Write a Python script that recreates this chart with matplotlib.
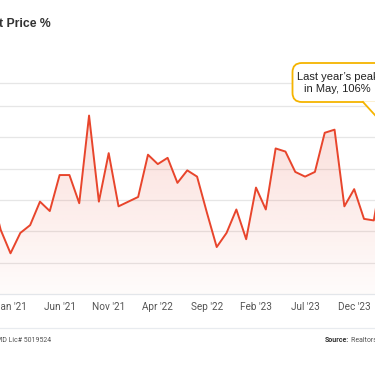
import numpy as np
import matplotlib
matplotlib.use("Agg")
import matplotlib.pyplot as plt
from matplotlib.patches import FancyBboxPatch, Polygon

# ==========================================================
# Data (monthly sale-to-list price %, month 0 = Jan '21)
# ==========================================================
months = list(range(-2, 39))
sale_to_list = [100.6, 98.1,
                96.6, 97.9, 98.4, 99.9, 99.3, 101.6, 101.6, 99.8, 105.4, 99.9, 103.0, 99.6,
                99.9, 100.2, 102.9, 102.3, 102.7, 101.1, 101.9, 101.5, 99.2, 97.0, 97.9, 99.4,
                97.5, 100.8, 99.4, 103.3, 103.1, 101.8, 101.5, 101.8, 104.3, 104.5, 99.6, 100.7,
                98.8, 98.7, 102.4]
tick_pos = [0, 5, 10, 15, 20, 25, 30, 35]
tick_labels = ["Jan '21", "Jun '21", "Nov '21", "Apr '22", "Sep '22", "Feb '23", "Jul '23", "Dec '23"]
grid_vals = [96, 98, 100, 102, 104, 106]

RED = "#e8452c"
GOLD = "#f5b400"
W, H = 375, 366

fig = plt.figure(figsize=(W / 100, H / 100), dpi=100)
fig.patch.set_facecolor("white")

# plot area: y from 82.7 px to 294 px
ax = fig.add_axes([0, (H - 294) / H, 1, (294 - 82.7) / H])
x0, x1 = -1.07, 37.12
y0, y1 = 94, 107.5
ax.set_xlim(x0, x1)
ax.set_ylim(y0, y1)

# gradient fill under the line
poly = ax.fill_between(months, sale_to_list, y0, color="none", lw=0)
grad = np.linspace(0.02, 0.18, 256).reshape(-1, 1)
rgba = np.zeros((256, 1, 4))
rgba[..., 0], rgba[..., 1], rgba[..., 2] = 232 / 255, 69 / 255, 44 / 255
rgba[..., 3] = grad[:, 0:1]
img = ax.imshow(rgba, extent=[x0, x1, y0, max(sale_to_list)], origin="lower",
                aspect="auto", zorder=1)
clip = poly.get_paths()[0]
img.set_clip_path(clip, transform=ax.transData)

ax.plot(months, sale_to_list, color=RED, lw=1.4, zorder=3)

for g in grid_vals:
    ax.axhline(g, color="#e6e6e6", lw=0.9, zorder=0)
ax.axhline(y1, color="#e6e6e6", lw=0.9, zorder=0, clip_on=False)

for s in ["top", "left", "right"]:
    ax.spines[s].set_visible(False)
ax.spines["bottom"].set_color("#e3e6ea")
ax.spines["bottom"].set_linewidth(0.9)
ax.set_yticks([])
ax.set_xticks(tick_pos)
ax.set_xticklabels(tick_labels, fontsize=7.2, color="#555555", family="Roboto")
ax.tick_params(axis="x", length=0, pad=5.5)

# ==========================================================
# Title, footer, annotation (pixel coordinates)
# ==========================================================
def px(x, y):
    return x / W, 1 - y / H

fig.text(*px(51, 24), "Sale-to-List Price %", ha="right", va="center",
         fontsize=8.8, fontweight="bold", color="#333333", family="Liberation Sans")

fig.add_artist(plt.Line2D([0, 1], [1 - 328 / H] * 2, color="#e8ebef", lw=0.9))
fig.text(*px(51, 340), "MD Lic# 5019524", ha="right", va="center",
         fontsize=5.0, color="#555555", family="Roboto")
src = fig.text(*px(325, 340), "Source:", ha="left", va="center",
               fontsize=5.0, fontweight="bold", color="#333333", family="Roboto")
fig.canvas.draw()
bb = src.get_window_extent(renderer=fig.canvas.get_renderer())
fig.text((bb.x1 + 2) / W, 1 - 340 / H, "Realtors Property Resource", ha="left", va="center",
         fontsize=5.0, color="#555555", family="Roboto")

# callout box
bx, by, bw, bh = 292.5, 63, 95, 39
box = FancyBboxPatch((bx / W, 1 - (by + bh) / H), bw / W, bh / H,
                     boxstyle="round,pad=0,rounding_size=0.025",
                     transform=fig.transFigure, facecolor="white",
                     edgecolor=GOLD, lw=1.3, zorder=5)
fig.add_artist(box)
tail = Polygon([px(363, by + bh - 0.8), px(384, 125), px(381, by + bh - 0.8)],
               closed=False, transform=fig.transFigure, facecolor="white",
               edgecolor="none", zorder=6)
fig.add_artist(tail)
fig.add_artist(plt.Line2D([363 / W, 384 / W], [1 - (by + bh) / H, 1 - 125 / H],
                          color=GOLD, lw=1.3, zorder=7))
fig.text(*px(337.5, 76.5), "Last year\u2019s peak", ha="center", va="center",
         fontsize=8.0, color="#222222", family="Liberation Sans", zorder=8)
fig.text(*px(337.5, 89), "in May, 106%", ha="center", va="center",
         fontsize=8.0, color="#222222", family="Liberation Sans", zorder=8)

fig.savefig("out.png", dpi=100)
